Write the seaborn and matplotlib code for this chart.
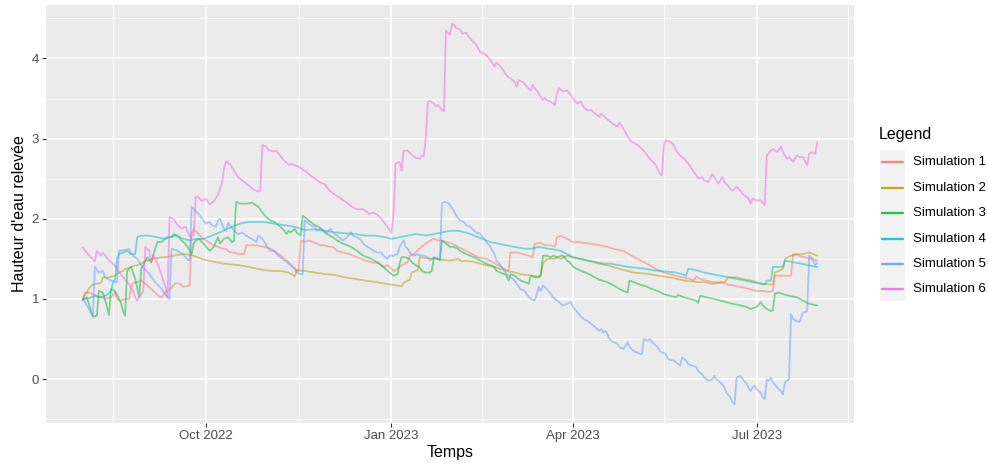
import pandas as pd
import matplotlib
matplotlib.use("Agg")
import matplotlib.pyplot as plt
from matplotlib.lines import Line2D
from matplotlib.patches import Rectangle
import seaborn as sns

# Day offsets are counted from the first day of the simulation period
START = pd.Timestamp("2022-08-01")

sim1_days = [0, 1, 3, 5, 8, 11, 14, 16, 17, 19, 21, 23, 24, 25, 27, 29, 32, 35, 37, 39, 41, 43, 44, 46, 48, 50, 53,
             54, 55, 57, 59, 61, 63, 65, 67, 69, 71, 73, 75, 77, 80, 81, 83, 86, 88, 90, 93, 96, 98, 100, 102, 104,
             106, 107, 108, 110, 112, 114, 116, 118, 120, 122, 124, 126, 129, 132, 136, 140, 143, 147, 149, 151,
             153, 154, 156, 158, 161, 162, 164, 167, 169, 171, 174, 176, 178, 180, 183, 186, 190, 193, 196, 200,
             203, 206, 209, 211, 212, 215, 218, 221, 223, 224, 227, 229, 232, 234, 235, 237, 240, 243, 246, 248,
             252, 256, 260, 264, 268, 272, 275, 278, 281, 284, 288, 291, 294, 297, 301, 303, 304, 306, 309, 312,
             316, 320, 324, 328, 331, 334, 337, 340, 342, 343, 347, 351, 352, 355, 358, 361, 364]
sim1_vals = [0.98, 1.08, 1.08, 1.06, 1.03, 1.0, 1.02, 1.08, 1.0, 0.98, 1.0, 1.0, 1.15, 1.2, 1.21, 1.23, 1.17, 1.1,
             1.05, 1.02, 1.08, 1.12, 1.14, 1.2, 1.19, 1.15, 1.17, 1.82, 1.87, 1.82, 1.77, 1.73, 1.7, 1.67, 1.65,
             1.63, 1.62, 1.58, 1.58, 1.56, 1.56, 1.67, 1.67, 1.67, 1.66, 1.65, 1.63, 1.58, 1.54, 1.5, 1.46, 1.41,
             1.36, 1.34, 1.73, 1.71, 1.73, 1.71, 1.69, 1.67, 1.67, 1.65, 1.65, 1.6, 1.58, 1.56, 1.52, 1.48, 1.46,
             1.44, 1.4, 1.42, 1.38, 1.35, 1.38, 1.42, 1.46, 1.54, 1.56, 1.63, 1.67, 1.71, 1.75, 1.73, 1.73, 1.71,
             1.69, 1.65, 1.6, 1.56, 1.52, 1.5, 1.46, 1.42, 1.375, 1.35, 1.58, 1.58, 1.56, 1.54, 1.52, 1.69, 1.7,
             1.67, 1.67, 1.65, 1.77, 1.79, 1.75, 1.71, 1.71, 1.7, 1.69, 1.67, 1.65, 1.62, 1.6, 1.54, 1.5, 1.46,
             1.42, 1.375, 1.33, 1.31, 1.29, 1.27, 1.25, 1.23, 1.28, 1.25, 1.23, 1.21, 1.21, 1.18, 1.16, 1.14, 1.12,
             1.1, 1.1, 1.09, 1.1, 1.29, 1.29, 1.29, 1.56, 1.54, 1.52, 1.5, 1.48]

sim2_days = [0, 2, 3, 5, 7, 9, 10, 13, 16, 18, 20, 21, 23, 25, 27, 29, 31, 33, 35, 37, 39, 41, 43, 45, 47, 50, 53,
             56, 59, 62, 66, 70, 74, 78, 82, 86, 90, 94, 98, 102, 104, 105, 106, 110, 115, 120, 125, 130, 135, 140,
             145, 150, 155, 158, 159, 161, 162, 163, 165, 166, 167, 170, 174, 178, 182, 186, 188, 190, 194, 197,
             200, 204, 207, 210, 214, 217, 220, 223, 226, 227, 228, 230, 232, 234, 235, 237, 240, 243, 246, 250,
             253, 256, 260, 263, 266, 270, 273, 277, 281, 285, 291, 298, 305, 308, 312, 315, 318, 320, 324, 327,
             331, 334, 337, 342, 343, 345, 347, 348, 351, 354, 357, 360, 362, 364]
sim2_vals = [1.0, 1.08, 1.13, 1.18, 1.19, 1.2, 1.27, 1.27, 1.29, 1.33, 1.35, 1.375, 1.39, 1.41, 1.42, 1.44, 1.48,
             1.48, 1.5, 1.51, 1.52, 1.52, 1.53, 1.54, 1.55, 1.56, 1.55, 1.53, 1.5, 1.48, 1.46, 1.44, 1.43, 1.42,
             1.4, 1.38, 1.36, 1.35, 1.35, 1.33, 1.3, 1.28, 1.36, 1.35, 1.33, 1.31, 1.3, 1.27, 1.25, 1.23, 1.21,
             1.19, 1.17, 1.16, 1.2, 1.23, 1.24, 1.33, 1.35, 1.36, 1.52, 1.51, 1.5, 1.49, 1.48, 1.5, 1.47, 1.48,
             1.46, 1.44, 1.42, 1.4, 1.375, 1.35, 1.33, 1.31, 1.3, 1.29, 1.28, 1.31, 1.44, 1.5, 1.5, 1.5, 1.52, 1.5,
             1.54, 1.52, 1.5, 1.48, 1.46, 1.44, 1.42, 1.4, 1.375, 1.35, 1.33, 1.32, 1.31, 1.29, 1.27, 1.23, 1.21,
             1.21, 1.19, 1.2, 1.21, 1.27, 1.27, 1.25, 1.23, 1.21, 1.19, 1.18, 1.33, 1.35, 1.375, 1.5, 1.54, 1.56,
             1.56, 1.58, 1.56, 1.54]

sim3_days = [0, 2, 5, 7, 8, 10, 12, 13, 14, 16, 19, 20, 21, 22, 24, 26, 28, 29, 32, 34, 35, 37, 39, 42, 44, 45, 47,
             49, 50, 52, 53, 54, 55, 56, 58, 59, 60, 62, 63, 65, 67, 68, 70, 72, 74, 75, 76, 78, 81, 84, 87, 89, 91,
             93, 95, 96, 98, 100, 101, 102, 103, 105, 106, 108, 109, 110, 112, 114, 115, 117, 119, 121, 124, 126,
             129, 133, 136, 139, 143, 146, 149, 152, 154, 156, 157, 158, 160, 162, 163, 165, 167, 168, 170, 172,
             173, 174, 176, 177, 178, 180, 182, 184, 186, 187, 190, 194, 197, 200, 204, 205, 207, 209, 210, 211,
             212, 214, 215, 217, 219, 221, 222, 224, 226, 227, 228, 230, 232, 233, 235, 237, 238, 240, 242, 243,
             245, 247, 250, 253, 256, 260, 263, 266, 268, 270, 271, 273, 276, 279, 282, 285, 288, 291, 294, 295,
             298, 301, 304, 305, 306, 309, 313, 316, 319, 322, 326, 329, 331, 334, 336, 337, 339, 341, 342, 343,
             345, 347, 350, 354, 357, 360, 364]
sim3_vals = [1.0, 1.02, 0.78, 0.79, 1.1, 1.08, 0.9, 0.8, 1.12, 1.1, 0.95, 0.85, 0.79, 1.35, 1.4, 1.25, 1.02, 1.375,
             1.52, 1.46, 1.55, 1.71, 1.71, 1.77, 1.77, 1.81, 1.79, 1.73, 1.71, 1.65, 1.6, 1.56, 1.69, 1.73, 1.75,
             1.71, 1.69, 1.625, 1.6, 1.65, 1.77, 1.69, 1.75, 1.77, 1.71, 1.73, 2.21, 2.19, 2.19, 2.2, 2.15, 2.08,
             2.02, 1.98, 1.96, 1.94, 1.9, 1.85, 1.81, 1.85, 1.83, 1.875, 1.83, 1.79, 2.04, 2.02, 1.98, 1.94, 1.92,
             1.9, 1.85, 1.81, 1.77, 1.73, 1.69, 1.65, 1.6, 1.54, 1.5, 1.46, 1.4, 1.33, 1.29, 1.31, 1.44, 1.52,
             1.52, 1.5, 1.46, 1.42, 1.4, 1.35, 1.33, 1.33, 1.35, 1.52, 1.5, 1.48, 1.73, 1.69, 1.65, 1.65, 1.625,
             1.6, 1.56, 1.52, 1.48, 1.44, 1.4, 1.35, 1.33, 1.31, 1.29, 1.23, 1.31, 1.29, 1.27, 1.23, 1.21, 1.19,
             1.29, 1.27, 1.27, 1.29, 1.54, 1.54, 1.52, 1.54, 1.52, 1.54, 1.54, 1.48, 1.44, 1.4, 1.375, 1.35, 1.32,
             1.28, 1.24, 1.21, 1.17, 1.125, 1.1, 1.08, 1.23, 1.21, 1.18, 1.16, 1.125, 1.1, 1.06, 1.04, 1.02, 1.05,
             1.02, 1.0, 0.98, 0.95, 1.04, 1.02, 1.0, 0.98, 0.96, 0.94, 0.92, 0.9, 0.875, 0.9, 0.96, 0.92, 0.875,
             0.85, 0.86, 1.07, 1.08, 1.06, 1.04, 1.02, 0.98, 0.94, 0.92]

sim4_days = [0, 2, 4, 6, 8, 10, 12, 14, 15, 16, 17, 18, 20, 22, 24, 26, 27, 29, 33, 37, 40, 43, 46, 50, 53, 56, 60,
             64, 68, 71, 74, 78, 82, 86, 90, 95, 100, 105, 110, 115, 120, 125, 130, 135, 140, 145, 150, 153, 157,
             161, 165, 170, 174, 178, 182, 186, 190, 194, 198, 202, 206, 210, 214, 218, 222, 226, 230, 233, 237,
             240, 243, 247, 250, 254, 258, 262, 266, 270, 274, 278, 282, 286, 290, 294, 297, 299, 300, 304, 308,
             312, 316, 320, 324, 328, 332, 336, 338, 339, 341, 342, 346, 347, 348, 352, 356, 360, 364]
sim4_vals = [1.0, 1.0, 1.02, 1.04, 1.02, 1.03, 1.05, 1.1, 1.2, 1.25, 1.5, 1.56, 1.58, 1.6, 1.56, 1.56, 1.77, 1.79,
             1.79, 1.77, 1.75, 1.77, 1.79, 1.75, 1.73, 1.75, 1.75, 1.79, 1.83, 1.87, 1.9, 1.94, 1.96, 1.96, 1.96,
             1.94, 1.92, 1.9, 1.86, 1.87, 1.85, 1.83, 1.82, 1.81, 1.79, 1.79, 1.77, 1.75, 1.77, 1.79, 1.81, 1.79,
             1.81, 1.83, 1.85, 1.85, 1.83, 1.79, 1.75, 1.71, 1.69, 1.67, 1.65, 1.63, 1.625, 1.65, 1.63, 1.62, 1.6,
             1.56, 1.52, 1.5, 1.48, 1.46, 1.44, 1.44, 1.42, 1.4, 1.39, 1.38, 1.36, 1.35, 1.34, 1.33, 1.31, 1.29,
             1.375, 1.36, 1.33, 1.31, 1.29, 1.27, 1.25, 1.23, 1.21, 1.19, 1.18, 1.23, 1.23, 1.4, 1.4, 1.4, 1.48,
             1.46, 1.44, 1.42, 1.4]

sim5_days = [0, 3, 5, 6, 8, 10, 11, 14, 17, 18, 21, 23, 24, 27, 29, 33, 36, 39, 41, 43, 44, 47, 50, 52, 53, 54, 56,
             58, 61, 63, 64, 66, 67, 68, 69, 70, 71, 72, 74, 76, 77, 79, 81, 83, 85, 86, 87, 89, 91, 93, 95, 96, 98,
             100, 101, 103, 105, 106, 108, 109, 110, 111, 113, 115, 116, 118, 120, 121, 123, 124, 126, 128, 129,
             131, 133, 134, 136, 138, 139, 141, 143, 144, 146, 148, 149, 151, 152, 154, 156, 157, 159, 160, 161,
             162, 164, 166, 167, 169, 171, 172, 174, 176, 177, 178, 179, 181, 182, 184, 185, 187, 189, 190, 192,
             194, 195, 197, 199, 200, 202, 204, 205, 207, 209, 210, 212, 214, 215, 217, 219, 220, 222, 224, 226,
             227, 228, 230, 232, 233, 235, 237, 238, 240, 242, 243, 245, 246, 248, 250, 253, 256, 257, 258, 259,
             260, 261, 263, 265, 266, 268, 270, 271, 273, 275, 277, 278, 280, 281, 283, 285, 286, 289, 290, 293,
             294, 296, 297, 299, 300, 302, 304, 305, 307, 308, 310, 312, 313, 314, 316, 318, 319, 321, 322, 323,
             324, 326, 327, 329, 331, 332, 333, 334, 336, 337, 338, 339, 340, 341, 342, 344, 346, 347, 348, 349,
             350, 351, 352, 355, 356, 357, 359, 360, 361, 362, 363, 364]
sim5_vals = [1.0, 0.88, 0.78, 1.4, 1.33, 1.35, 1.27, 1.23, 1.21, 1.6, 1.61, 1.625, 1.56, 1.5, 1.42, 1.31, 1.21,
             1.125, 1.05, 1.0, 1.625, 1.6, 1.55, 1.49, 1.48, 2.15, 2.1, 2.04, 1.94, 1.96, 1.92, 1.9, 1.98, 2.0, 1.94,
             1.87, 1.85, 1.95, 1.88, 1.83, 1.81, 1.83, 1.79, 1.76, 1.73, 1.71, 1.79, 1.75, 1.67, 1.6, 1.6, 1.56,
             1.52, 1.48, 1.46, 1.42, 1.375, 1.33, 1.31, 1.31, 1.98, 1.96, 1.92, 1.9, 1.85, 1.875, 1.85, 1.83, 1.875,
             1.83, 1.79, 1.75, 1.73, 1.77, 1.83, 1.79, 1.77, 1.73, 1.69, 1.65, 1.625, 1.6, 1.58, 1.58, 1.54, 1.5,
             1.54, 1.54, 1.56, 1.65, 1.73, 1.65, 1.625, 1.58, 1.54, 1.56, 1.54, 1.54, 1.52, 1.48, 1.52, 1.5, 1.52,
             2.19, 2.21, 2.2, 2.17, 2.1, 2.04, 1.98, 1.96, 1.92, 1.9, 1.85, 1.83, 1.81, 1.75, 1.71, 1.65, 1.56, 1.48,
             1.42, 1.35, 1.31, 1.27, 1.23, 1.19, 1.125, 1.1, 1.06, 1.0, 0.98, 1.15, 1.1, 1.17, 1.125, 1.06, 1.02,
             0.98, 0.94, 0.92, 0.94, 0.96, 0.9, 0.84, 0.81, 0.75, 0.73, 0.67, 0.6, 0.625, 0.58, 0.6, 0.56, 0.5,
             0.46, 0.44, 0.4, 0.375, 0.46, 0.4, 0.35, 0.33, 0.31, 0.5, 0.48, 0.5, 0.44, 0.4, 0.35, 0.31, 0.25, 0.23,
             0.21, 0.17, 0.27, 0.23, 0.19, 0.17, 0.15, 0.1, 0.06, 0.02, -0.02, 0.0, 0.04, 0.0, -0.04, -0.1, -0.17,
             -0.23, -0.29, -0.31, 0.02, 0.04, 0.0, -0.06, -0.15, -0.1, -0.08, -0.125, -0.17, -0.23, -0.25, 0.0,
             -0.02, 0.02, -0.04, -0.1, -0.15, -0.19, -0.04, -0.02, 0.0, 0.81, 0.75, 0.71, 0.77, 0.83, 0.85, 1.54,
             1.52, 1.48, 1.42, 1.45]

sim6_days = [0, 2, 4, 6, 7, 9, 10, 13, 15, 17, 19, 21, 23, 25, 26, 27, 29, 30, 31, 33, 34, 35, 37, 39, 41, 42, 43,
             45, 47, 49, 51, 53, 55, 56, 57, 59, 61, 63, 65, 67, 69, 70, 71, 73, 75, 77, 79, 82, 85, 87, 88, 89, 91,
             92, 94, 96, 98, 100, 102, 104, 107, 110, 112, 115, 118, 120, 122, 125, 128, 131, 134, 136, 139, 142,
             144, 146, 148, 150, 152, 153, 154, 155, 157, 158, 159, 161, 163, 165, 167, 168, 169, 170, 171, 172,
             174, 175, 176, 178, 179, 180, 181, 182, 183, 184, 185, 187, 188, 190, 191, 192, 195, 197, 199, 200,
             202, 204, 205, 207, 209, 210, 212, 214, 215, 216, 218, 220, 222, 223, 224, 226, 228, 229, 230, 232,
             234, 235, 236, 238, 240, 242, 243, 245, 247, 248, 250, 252, 253, 256, 257, 259, 261, 263, 265, 266,
             268, 270, 272, 275, 278, 281, 284, 286, 287, 288, 289, 291, 293, 294, 296, 298, 300, 303, 305, 307,
             308, 310, 312, 313, 315, 317, 318, 321, 322, 324, 326, 327, 330, 331, 332, 334, 336, 338, 339, 341,
             342, 344, 346, 347, 349, 350, 352, 354, 355, 357, 359, 360, 361, 363, 364]
sim6_vals = [1.64, 1.58, 1.52, 1.47, 1.6, 1.54, 1.58, 1.48, 1.44, 1.38, 1.3, 1.25, 1.18, 1.1, 1.02, 0.98, 1.06,
             1.1, 1.65, 1.6, 1.45, 1.55, 1.45, 1.3, 1.15, 1.02, 2.02, 2.0, 1.92, 1.88, 1.9, 1.78, 1.8, 2.27, 2.28,
             2.22, 2.25, 2.18, 2.22, 2.3, 2.45, 2.62, 2.72, 2.68, 2.6, 2.52, 2.48, 2.42, 2.36, 2.34, 2.35, 2.92,
             2.9, 2.86, 2.84, 2.85, 2.78, 2.72, 2.68, 2.68, 2.65, 2.6, 2.56, 2.5, 2.45, 2.43, 2.36, 2.3, 2.25, 2.2,
             2.14, 2.12, 2.12, 2.06, 2.08, 2.05, 2.0, 1.93, 1.86, 1.83, 2.05, 2.69, 2.71, 2.6, 2.85, 2.85, 2.8,
             2.76, 2.75, 2.79, 2.78, 3.0, 3.46, 3.47, 3.44, 3.4, 3.42, 3.36, 3.34, 4.35, 4.32, 4.3, 4.43, 4.42,
             4.38, 4.36, 4.31, 4.32, 4.28, 4.25, 4.17, 4.08, 4.06, 4.04, 3.98, 3.9, 3.95, 3.9, 3.83, 3.79, 3.75,
             3.71, 3.65, 3.73, 3.71, 3.65, 3.6, 3.67, 3.63, 3.56, 3.48, 3.51, 3.48, 3.46, 3.42, 3.56, 3.63, 3.59,
             3.6, 3.54, 3.5, 3.44, 3.46, 3.4, 3.35, 3.36, 3.33, 3.27, 3.31, 3.26, 3.22, 3.18, 3.15, 3.2, 3.12, 3.03,
             2.96, 2.92, 2.85, 2.75, 2.67, 2.56, 2.54, 2.92, 2.98, 2.96, 2.92, 2.85, 2.79, 2.75, 2.69, 2.58, 2.5,
             2.52, 2.48, 2.46, 2.56, 2.52, 2.44, 2.52, 2.46, 2.375, 2.35, 2.4, 2.35, 2.31, 2.25, 2.19, 2.25, 2.23,
             2.23, 2.17, 2.79, 2.85, 2.875, 2.83, 2.9, 2.83, 2.75, 2.77, 2.71, 2.79, 2.77, 2.77, 2.67, 2.81, 2.83,
             2.81, 2.96]

series_names = ["Simulation 1", "Simulation 2", "Simulation 3",
                "Simulation 4", "Simulation 5", "Simulation 6"]
series_days = [sim1_days, sim2_days, sim3_days, sim4_days, sim5_days, sim6_days]
series_vals = [sim1_vals, sim2_vals, sim3_vals, sim4_vals, sim5_vals, sim6_vals]
palette = ["#F8766D", "#B79F00", "#00BA38", "#00BFC4", "#619CFF", "#F564E3"]

x_ticks = ["2022-10-01", "2023-01-01", "2023-04-01", "2023-07-01"]
x_tick_labels = ["Oct 2022", "Jan 2023", "Apr 2023", "Jul 2023"]
x_minor = ["2022-08-16", "2022-11-16", "2023-02-15", "2023-05-16", "2023-08-15"]
y_ticks = [0, 1, 2, 3, 4]
y_minor = [-0.5, 0.5, 1.5, 2.5, 3.5, 4.5]

frames = []
for name, days, vals in zip(series_names, series_days, series_vals):
    frames.append(pd.DataFrame({
        "Temps": START + pd.to_timedelta(days, unit="D"),
        "Hauteur": vals,
        "Legend": name,
    }))
df = pd.concat(frames, ignore_index=True)

sns.set_theme(style="darkgrid")
plt.rcParams["font.family"] = ["Liberation Sans", "DejaVu Sans"]

W, H = 988, 465
fig = plt.figure(figsize=(W / 100, H / 100), dpi=100)
ax = fig.add_axes([46 / W, 1 - 423 / H, (854 - 46) / W, (423 - 5) / H])
ax.set_facecolor("#EBEBEB")

sns.lineplot(data=df, x="Temps", y="Hauteur", hue="Legend", hue_order=series_names,
             palette=palette, estimator=None, alpha=0.5, linewidth=1.3,
             legend=False, ax=ax)

# ggplot-like 5% expansion around the data range
t0, t1 = df["Temps"].min(), df["Temps"].max()
span = t1 - t0
ax.set_xlim(t0 - 0.05 * span, t1 + 0.05 * span)
v0, v1 = df["Hauteur"].min(), df["Hauteur"].max()
ax.set_ylim(v0 - 0.05 * (v1 - v0), v1 + 0.05 * (v1 - v0))

ax.set_xticks(pd.to_datetime(x_ticks))
ax.set_xticklabels(x_tick_labels)
ax.set_xticks(pd.to_datetime(x_minor), minor=True)
ax.set_yticks(y_ticks)
ax.set_yticklabels([str(t) for t in y_ticks])
ax.set_yticks(y_minor, minor=True)

ax.grid(which="major", color="white", linewidth=1.1)
ax.grid(which="minor", color="white", linewidth=0.55)
ax.set_axisbelow(True)
for s in ax.spines.values():
    s.set_visible(False)
ax.tick_params(which="major", length=3, width=0.8, color="#333333",
               labelcolor="#4D4D4D", labelsize=9.5, pad=2, bottom=True, left=True)
ax.tick_params(which="minor", length=0)

ax.set_xlabel("Temps", fontsize=11.5, color="black", labelpad=2)
ax.set_ylabel("Hauteur d'eau relevée", fontsize=11.5, color="black", labelpad=3)

# Legend on the right: title, grey key column, coloured keys and labels
fig.patches.append(Rectangle((880 / W, 1 - 301 / H), 25 / W, 151 / H,
                             transform=fig.transFigure, facecolor="#F2F2F2",
                             edgecolor="none", zorder=0))
fig.text(879 / W, 1 - 135 / H, "Legend", fontsize=11.5, color="black",
         ha="left", va="center")
key_y0, key_step = 162.3, 25.4
for i, (name, color) in enumerate(zip(series_names, palette)):
    yk = 1 - (key_y0 + key_step * i) / H
    fig.add_artist(Line2D([881.5 / W, 903 / W], [yk, yk], transform=fig.transFigure,
                          color=color, lw=1.7, alpha=0.85))
    fig.text(913 / W, yk, name, fontsize=9.5, color="black", ha="left", va="center")

fig.savefig("out.png", dpi=100)
